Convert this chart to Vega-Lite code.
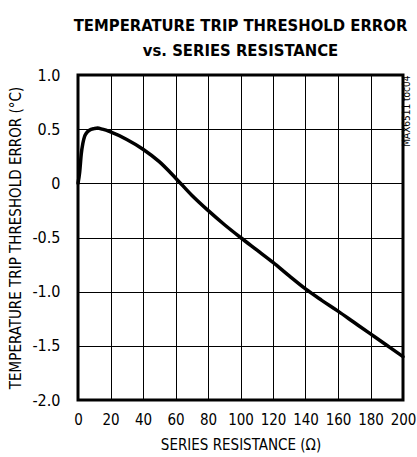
{
  "$schema": "https://vega.github.io/schema/vega-lite/v6.json",
  "autosize": {"type": "none"},
  "padding": {"left": 78, "top": 75, "right": 14, "bottom": 57},
  "width": 325,
  "height": 325,
  "background": "white",
  "config": {
    "font": "DejaVu Sans Condensed, Liberation Sans",
    "view": {"stroke": "black", "strokeWidth": 3},
    "axis": {
      "grid": true,
      "gridColor": "black",
      "gridOpacity": 1,
      "gridWidth": 1,
      "domain": false,
      "ticks": false,
      "labelColor": "black",
      "titleColor": "black",
      "labelFont": "DejaVu Sans Condensed, Liberation Sans",
      "titleFont": "DejaVu Sans Condensed, Liberation Sans",
      "labelFontSize": 16,
      "titleFontSize": 15,
      "titleFontWeight": "normal",
      "labelOverlap": false
    }
  },
  "title": {
    "text": ["TEMPERATURE TRIP THRESHOLD ERROR", "vs. SERIES RESISTANCE"],
    "font": "DejaVu Sans Condensed, Liberation Sans",
    "fontSize": 16.5,
    "fontWeight": "bold",
    "color": "black",
    "lineHeight": 25,
    "anchor": "middle",
    "frame": "group",
    "offset": 8
  },
  "data": {
    "values": [
      {"r": 0, "err": 0},
      {"r": 1, "err": 0.1},
      {"r": 2, "err": 0.27},
      {"r": 3, "err": 0.37},
      {"r": 4, "err": 0.43},
      {"r": 5, "err": 0.46},
      {"r": 7, "err": 0.49},
      {"r": 10, "err": 0.505},
      {"r": 12, "err": 0.51},
      {"r": 15, "err": 0.5},
      {"r": 20, "err": 0.475},
      {"r": 30, "err": 0.405},
      {"r": 40, "err": 0.315},
      {"r": 50, "err": 0.2},
      {"r": 60, "err": 0.05},
      {"r": 70, "err": -0.11},
      {"r": 80, "err": -0.25},
      {"r": 90, "err": -0.38},
      {"r": 100, "err": -0.5},
      {"r": 110, "err": -0.615},
      {"r": 120, "err": -0.73},
      {"r": 130, "err": -0.855},
      {"r": 140, "err": -0.975},
      {"r": 150, "err": -1.08},
      {"r": 160, "err": -1.18},
      {"r": 170, "err": -1.285},
      {"r": 180, "err": -1.39},
      {"r": 190, "err": -1.495},
      {"r": 200, "err": -1.6}
    ]
  },
  "encoding": {
    "x": {
      "field": "r", "type": "quantitative",
      "scale": {"domain": [0, 200], "nice": false},
      "axis": {"values": [0,20,40,60,80,100,120,140,160,180,200], "tickCount": 20, "title": "SERIES RESISTANCE (Ω)", "labelFontSize": 15, "labelPadding": 12, "titlePadding": 10, "labelFlush": false, "labelOverlap": false, "labelBound": false}
    }
  },
  "layer": [
    {
      "mark": {"type": "line", "color": "black", "strokeWidth": 3.5, "interpolate": "monotone", "strokeCap": "round"},
      "encoding": {
        "y": {
          "field": "err", "type": "quantitative",
          "scale": {"domain": [-2, 1], "nice": false, "zero": false},
          "axis": {
            "values": [-2, -1.5, -1, -0.5, 0, 0.5, 1],
            "tickCount": 20,
            "title": "TEMPERATURE TRIP THRESHOLD ERROR (°C)",
            "labelPadding": 18,
            "titlePadding": 8,
            "labelFlush": false,
            "labelOverlap": false,
            "labelExpr": "datum.value == 0 ? '0' : (datum.value < 0 ? '-' : '') + format(abs(datum.value), '.1f')"
          }
        }
      }
    },
    {
      "mark": {"type": "line", "color": "black", "strokeWidth": 3.5, "interpolate": "monotone", "opacity": 0},
      "encoding": {
        "y": {
          "field": "err", "type": "quantitative",
          "axis": {
            "orient": "right", "grid": false, "labels": false, "ticks": false, "domain": false,
            "title": "MAX6511 toc04", "titleFontSize": 10, "titleAngle": 270, "titleAnchor": "end", "titlePadding": 8
          }
        }
      }
    }
  ],
  "resolve": {"axis": {"y": "independent"}}
}
